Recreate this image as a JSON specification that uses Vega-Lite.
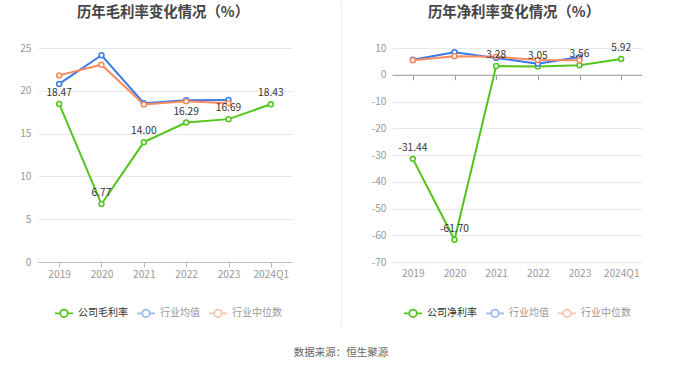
{
  "$schema": "https://vega.github.io/schema/vega-lite/v6.json",
  "padding": {"left": 0, "top": 0, "right": 0, "bottom": 0},
  "background": "white",
  "config": {
    "font": "Noto Sans CJK SC",
    "locale": {"number": {"decimal": ".", "thousands": ",", "grouping": [3], "currency": ["", ""], "minus": "-"}},
    "view": {"stroke": null},
    "axis": {"labelFont": "Noto Sans CJK SC", "labelFontSize": 10.2, "labelColor": "#999", "title": null},
    "legend": {"labelFont": "Noto Sans CJK SC"}
  },
  "datasets": {
    "gross": [
      {"year": "2019", "series": "公司毛利率", "value": 18.47},
      {"year": "2020", "series": "公司毛利率", "value": 6.77},
      {"year": "2021", "series": "公司毛利率", "value": 14.00},
      {"year": "2022", "series": "公司毛利率", "value": 16.29},
      {"year": "2023", "series": "公司毛利率", "value": 16.69},
      {"year": "2024Q1", "series": "公司毛利率", "value": 18.43},
      {"year": "2019", "series": "行业均值", "value": 20.8},
      {"year": "2020", "series": "行业均值", "value": 24.15},
      {"year": "2021", "series": "行业均值", "value": 18.55},
      {"year": "2022", "series": "行业均值", "value": 18.9},
      {"year": "2023", "series": "行业均值", "value": 18.93},
      {"year": "2019", "series": "行业中位数", "value": 21.8},
      {"year": "2020", "series": "行业中位数", "value": 23.05},
      {"year": "2021", "series": "行业中位数", "value": 18.4},
      {"year": "2022", "series": "行业中位数", "value": 18.77},
      {"year": "2023", "series": "行业中位数", "value": 18.55}
    ],
    "net": [
      {"year": "2019", "series": "公司净利率", "value": -31.44},
      {"year": "2020", "series": "公司净利率", "value": -61.70},
      {"year": "2021", "series": "公司净利率", "value": 3.28},
      {"year": "2022", "series": "公司净利率", "value": 3.05},
      {"year": "2023", "series": "公司净利率", "value": 3.56},
      {"year": "2024Q1", "series": "公司净利率", "value": 5.92},
      {"year": "2019", "series": "行业均值", "value": 5.6},
      {"year": "2020", "series": "行业均值", "value": 8.4},
      {"year": "2021", "series": "行业均值", "value": 6.3},
      {"year": "2022", "series": "行业均值", "value": 4.1},
      {"year": "2023", "series": "行业均值", "value": 6.6},
      {"year": "2019", "series": "行业中位数", "value": 5.4},
      {"year": "2020", "series": "行业中位数", "value": 6.9},
      {"year": "2021", "series": "行业中位数", "value": 6.75},
      {"year": "2022", "series": "行业中位数", "value": 5.5},
      {"year": "2023", "series": "行业中位数", "value": 5.4}
    ]
  },
  "title": {"text": "数据来源：恒生聚源", "orient": "bottom", "anchor": "middle", "fontSize": 10.5, "fontWeight": "normal", "color": "#666", "font": "Noto Sans CJK SC", "offset": 21, "dx": 20},
  "spacing": 49,
  "resolve": {"scale": {"stroke": "independent"}, "legend": {"stroke": "independent"}},
  "hconcat": [
    {
      "width": 254,
      "height": 214,
      "title": {"text": "历年毛利率变化情况（%）", "anchor": "middle", "fontSize": 14.4, "fontWeight": "bold", "color": "#444", "font": "Noto Sans CJK SC", "offset": 23, "dx": -2},
      "data": {"name": "gross"},
      "encoding": {
        "x": {"field": "year", "type": "ordinal", "sort": ["2019", "2020", "2021", "2022", "2023", "2024Q1"], "scale": {"type": "point", "padding": 0.5},
          "axis": {"labelAngle": 0, "domainColor": "#bbb", "tickColor": "#bbb", "tickSize": 5, "labelPadding": 2, "grid": false}},
        "y": {"field": "value", "type": "quantitative", "scale": {"domain": [0, 25], "nice": false},
          "axis": {"values": [0, 5, 10, 15, 20, 25], "domain": false, "ticks": false, "tickSize": 0, "labelPadding": 7, "gridColor": "#e6e9f0", "minExtent": 38, "maxExtent": 38}}
      },
      "layer": [
        {
          "mark": {"type": "line", "strokeWidth": 2},
          "encoding": {
            "stroke": {"field": "series", "type": "nominal",
              "scale": {"domain": ["公司毛利率", "行业均值", "行业中位数"], "range": ["#52C41A", "#3D78E8", "#F88A5E"]},
              "legend": {"orient": "none", "legendX": 16, "legendY": 255, "direction": "horizontal", "title": null, "padding": 0,
                "symbolType": "M-1,0L-0.42,0M0.42,0L1,0M-0.42,0A0.42,0.42,0,1,1,0.42,0A0.42,0.42,0,1,1,-0.42,0",
                "symbolSize": 324, "symbolStrokeWidth": 1.8, "symbolFillColor": "#ffffff",
                "labelFontSize": 10, "labelOffset": 4, "columnPadding": 5, "labelColor": "#999",
                "encode": {"labels": {"update": {"fill": {"signal": "datum.index === 0 ? '#333' : '#999'"}}},
                           "symbols": {"update": {"opacity": {"signal": "datum.index === 0 ? 1 : 0.5"}}}}}
            }
          }
        },
        {
          "mark": {"type": "point", "filled": true, "fill": "white", "size": 24, "strokeWidth": 1.5, "opacity": 1},
          "encoding": {"stroke": {"field": "series", "type": "nominal"}}
        },
        {
          "transform": [{"filter": "datum.series === '公司毛利率'"}],
          "mark": {"type": "text", "dy": -11, "fontSize": 10.2, "color": "#333"},
          "encoding": {"text": {"field": "value", "type": "quantitative", "format": ".2f"}}
        }
      ]
    },
    {
      "spacing": 10,
      "resolve": {"scale": {"stroke": "independent"}, "legend": {"stroke": "independent"}},
      "hconcat": [
        {
          "width": 1,
          "height": 278,
          "data": {"values": [{}]},
          "mark": {"type": "rule", "color": "#eeeeee", "strokeWidth": 1},
          "encoding": {
            "y": {"datum": 325, "type": "quantitative", "scale": {"domain": [0, 278], "nice": false, "zero": false}, "axis": null},
            "y2": {"datum": 0}
          }
        },
        {
          "width": 250,
          "height": 214,
          "title": {"text": "历年净利率变化情况（%）", "anchor": "middle", "fontSize": 14.4, "fontWeight": "bold", "color": "#444", "font": "Noto Sans CJK SC", "offset": 23, "dx": -3},
          "data": {"name": "net"},
          "resolve": {"axis": {"x": "independent"}},
          "encoding": {
            "y": {"field": "value", "type": "quantitative", "scale": {"domain": [-70, 10], "nice": false},
              "axis": {"values": [-70, -60, -50, -40, -30, -20, -10, 0, 10], "domain": false, "ticks": false, "tickSize": 0, "labelPadding": 6, "gridColor": "#e6e9f0", "minExtent": 40, "maxExtent": 40}}
          },
          "layer": [
            {
              "mark": {"type": "line", "strokeWidth": 2},
              "encoding": {
                "x": {"field": "year", "type": "ordinal", "sort": ["2019", "2020", "2021", "2022", "2023", "2024Q1"], "scale": {"type": "point", "padding": 0.5},
                  "axis": {"orient": "bottom", "labelAngle": 0, "domain": false, "ticks": false, "tickSize": 0, "labelPadding": 6, "grid": false}},
                "stroke": {"field": "series", "type": "nominal",
                  "scale": {"domain": ["公司净利率", "行业均值", "行业中位数"], "range": ["#52C41A", "#3D78E8", "#F88A5E"]},
                  "legend": {"orient": "none", "legendX": 11, "legendY": 255, "direction": "horizontal", "title": null, "padding": 0,
                    "symbolType": "M-1,0L-0.42,0M0.42,0L1,0M-0.42,0A0.42,0.42,0,1,1,0.42,0A0.42,0.42,0,1,1,-0.42,0",
                    "symbolSize": 324, "symbolStrokeWidth": 1.8, "symbolFillColor": "#ffffff",
                    "labelFontSize": 10, "labelOffset": 4, "columnPadding": 5, "labelColor": "#999",
                    "encode": {"labels": {"update": {"fill": {"signal": "datum.index === 0 ? '#333' : '#999'"}}},
                               "symbols": {"update": {"opacity": {"signal": "datum.index === 0 ? 1 : 0.5"}}}}}
                }
              }
            },
            {
              "mark": {"type": "point", "filled": true, "fill": "white", "size": 24, "strokeWidth": 1.5, "opacity": 1},
              "encoding": {
                "x": {"field": "year", "type": "ordinal", "sort": ["2019", "2020", "2021", "2022", "2023", "2024Q1"],
                  "axis": {"orient": "top", "offset": -26.75, "labels": false, "domainColor": "#999", "tickColor": "#999", "tickSize": -5, "grid": false}},
                "stroke": {"field": "series", "type": "nominal"}
              }
            },
            {
              "transform": [{"filter": "datum.series === '公司净利率'"}],
              "mark": {"type": "text", "dy": -11, "fontSize": 10.2, "color": "#333"},
              "encoding": {
                "x": {"field": "year", "type": "ordinal", "sort": ["2019", "2020", "2021", "2022", "2023", "2024Q1"], "axis": null},
                "text": {"field": "value", "type": "quantitative", "format": ".2f"}
              }
            }
          ]
        }
      ]
    }
  ]
}
